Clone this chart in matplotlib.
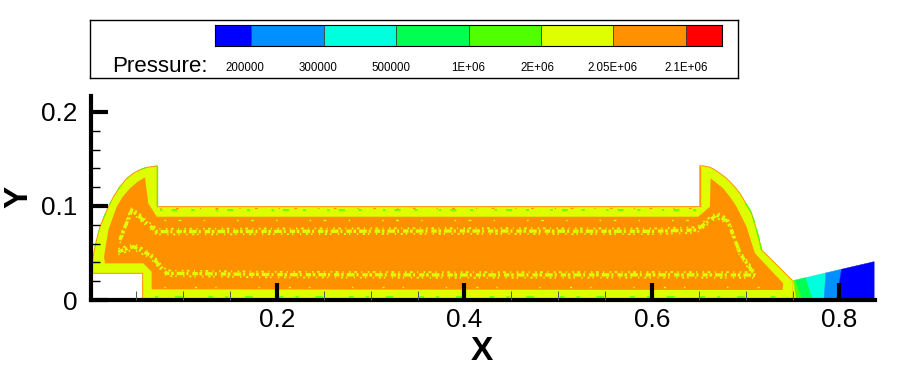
import matplotlib
matplotlib.use("Agg")
import matplotlib.pyplot as plt
from matplotlib.patches import Polygon

# --- values ---
level_labels = ["200000", "300000", "500000", "1E+06", "2E+06", "2.05E+06", "2.1E+06"]
level_colors = ["#0000ff", "#0090ff", "#00ffdd", "#00ff50", "#50ff00", "#ddff00", "#ff9000", "#ff0000"]
level_widths = [0.5, 1, 1, 1, 1, 1, 1, 0.5]
label_px = [245, 318, 391, 468, 537, 613, 686]

arc_left_x = [0.0723, 0.0610, 0.0538, 0.0467, 0.0390, 0.0325, 0.0260, 0.0201, 0.0155, 0.0112, 0.0083, 0.0059, 0.0042, 0.0027]
arc_left_y = [0.1426, 0.1411, 0.1385, 0.1348, 0.1285, 0.1206, 0.1105, 0.0993, 0.0885, 0.0780, 0.0670, 0.0567, 0.0480, 0.0390]
arc_right_x = [0.7170, 0.7145, 0.7117, 0.7090, 0.7063, 0.7037, 0.7010, 0.6975, 0.6939, 0.6887, 0.6832, 0.6780, 0.6725, 0.6672, 0.6619, 0.6565, 0.6512]
arc_right_y = [0.0532, 0.0640, 0.0745, 0.0838, 0.0922, 0.0970, 0.1011, 0.1075, 0.1135, 0.1200, 0.1259, 0.1308, 0.1348, 0.1385, 0.1412, 0.1424, 0.1429]
outline_x = arc_left_x + [0.0027, 0.0567, 0.0567, 0.7501, 0.7501] + arc_right_x + [0.6512, 0.0723]
outline_y = arc_left_y + [0.0284, 0.0284, 0.0, 0.0, 0.0206] + arc_right_y + [0.0993, 0.0993]

core_x = [0.0663, 0.0663, 0.0574, 0.0165, 0.0155, 0.0201, 0.0290, 0.0355, 0.0432, 0.0510, 0.0592, 0.0627, 0.0717,
          0.6494, 0.6619, 0.6626, 0.6760, 0.6835, 0.6903, 0.7010, 0.7099, 0.7401, 0.7394]
core_y = [0.0113, 0.0301, 0.0390, 0.0390, 0.0461, 0.0745, 0.0993, 0.1100, 0.1188, 0.1255, 0.1305, 0.1029, 0.0886,
          0.0886, 0.0993, 0.1295, 0.1188, 0.1095, 0.0993, 0.0780, 0.0497, 0.0178, 0.0106]

upper_x = [0.0325, 0.0450, 0.0717, 0.20, 0.40, 0.60, 0.6477, 0.669, 0.6814, 0.6939, 0.7099]
upper_y = [0.0638, 0.0957, 0.0727, 0.0730, 0.0734, 0.0730, 0.0745, 0.0904, 0.0833, 0.0497, 0.0266]
lower_x = [0.0307, 0.0467, 0.0645, 0.0823, 0.20, 0.40, 0.60, 0.7099]
lower_y = [0.0514, 0.0567, 0.0479, 0.0284, 0.0270, 0.0266, 0.0268, 0.0266]

# wedge contour edges: x at the bottom, x at the top of the outlet region
wedge_x = [0.7501, 0.8371]
wedge_y = [0.0206, 0.0408]
wedge_bottom = [0.7501, 0.7543, 0.7608, 0.7720, 0.7835, 0.7970, 0.8371]
wedge_top = [0.7501, 0.7510, 0.7526, 0.7643, 0.7856, 0.8023, 0.8371]
wedge_colors = ["#ddff00", "#50ff00", "#00ff50", "#00ffdd", "#0090ff", "#0000ff"]

x_major = [0.2, 0.4, 0.6, 0.8]
x_minor = [0.05, 0.1, 0.15, 0.25, 0.3, 0.35, 0.45, 0.5, 0.55, 0.65, 0.7, 0.75]
y_major = [0, 0.1, 0.2]
y_minor = [0.02, 0.04, 0.06, 0.08, 0.12, 0.14, 0.16, 0.18]

W, H = 922, 368
plt.rcParams["font.family"] = ["Liberation Sans", "DejaVu Sans"]
fig = plt.figure(figsize=(W / 100, H / 100), dpi=100)


def px_axes(x0, y0, x1, y1):
    return fig.add_axes([x0 / W, 1 - y1 / H, (x1 - x0) / W, (y1 - y0) / H])


# legend box
box = px_axes(90, 20, 738, 78)
box.set_xticks([])
box.set_yticks([])
for s in box.spines.values():
    s.set_linewidth(1)

bar = px_axes(215, 25, 722, 46)
left = 0
for w, c in zip(level_widths, level_colors):
    bar.barh(0, w, left=left, height=1, color=c, edgecolor="#333333", linewidth=0.5)
    left += w
bar.set_xlim(0, sum(level_widths))
bar.set_ylim(-0.5, 0.5)
bar.set_xticks([])
bar.set_yticks([])
for s in bar.spines.values():
    s.set_linewidth(0.8)

fig.text(112 / W, 1 - 66 / H, "Pressure:", fontsize=16.1, ha="left", va="center")
for lab, px in zip(level_labels, label_px):
    fig.text(px / W, 1 - 68 / H, lab, fontsize=8.3, ha="center", va="center")

# main plot
ax = px_axes(91, 96, 875, 300)
ax.set_xlim(0.0016, 0.838)
ax.set_ylim(0, 0.217)
ax.patch.set_alpha(0)

ax.add_patch(Polygon(list(zip(outline_x, outline_y)), closed=True, facecolor="#ddff00",
                     edgecolor="#ff9000", linewidth=0.7, zorder=2))
ax.add_patch(Polygon(list(zip(core_x, core_y)), closed=True, facecolor="#ff9000", edgecolor="none", zorder=3))

# outlet wedge, one strip per pressure level
slope = (wedge_y[1] - wedge_y[0]) / (wedge_x[1] - wedge_x[0])
for i, c in enumerate(wedge_colors):
    xb0, xb1 = wedge_bottom[i], wedge_bottom[i + 1]
    xt0, xt1 = wedge_top[i], wedge_top[i + 1]
    yt0 = wedge_y[0] + slope * (xt0 - wedge_x[0])
    yt1 = wedge_y[0] + slope * (xt1 - wedge_x[0])
    ax.add_patch(Polygon([(xb0, 0), (xb1, 0), (xt1, yt1), (xt0, yt0)], closed=True,
                         facecolor=c, edgecolor=c, linewidth=0.3, zorder=2))

# speckled yellow bands inside the core
for xs, ys in [(upper_x, upper_y), (lower_x, lower_y)]:
    ax.plot(xs, ys, color="#ddff00", lw=2.4, dashes=(1.6, 0.5, 0.8, 0.9, 2.3, 0.6, 0.6, 1.2), zorder=4)
    ax.plot(xs, [v + 0.003 for v in ys], color="#ddff00", lw=1.3, dashes=(0.9, 1.9, 1.5, 2.4, 0.6, 3.0), zorder=4)
    ax.plot(xs, [v - 0.003 for v in ys], color="#ddff00", lw=1.3, dashes=(0.7, 2.6, 1.2, 1.6, 0.8, 3.6), zorder=4)

# stray flecks next to the wall layers
ax.plot([0.08, 0.64], [0.0848, 0.0848], color="#ddff00", lw=1.0, dashes=(1.2, 9, 2, 16, 1, 23), zorder=4)
ax.plot([0.08, 0.73], [0.0135, 0.0135], color="#ddff00", lw=1.0, dashes=(1, 21, 1.5, 13, 1, 30), zorder=4)
ax.plot([0.075, 0.65], [0.0962, 0.0962], color="#50ff00", lw=1.1, dashes=(1.5, 6, 4, 9, 2, 14), zorder=4)
ax.plot([0.075, 0.65], [0.0978, 0.0978], color="#ff9000", lw=0.8, dashes=(1, 13, 2.5, 19), zorder=4)
ax.plot([0.07, 0.745], [0.0028, 0.0028], color="#50ff00", lw=1.1, dashes=(2, 11, 5, 17, 3, 8), zorder=4)
ax.plot([0.0723, 0.0723], [0.1, 0.142], color="#50ff00", lw=1.0, zorder=4)
ax.plot([0.6512, 0.6512], [0.1, 0.142], color="#ff9000", lw=0.9, zorder=4)
ax.plot(arc_right_x[:8], arc_right_y[:8], color="#50ff00", lw=1.0, dashes=(5, 2, 9, 4), zorder=4)
ax.plot(arc_left_x, arc_left_y, color="#50ff00", lw=0.8, dashes=(2, 9, 4, 13), zorder=4)

for s in ["top", "right"]:
    ax.spines[s].set_visible(False)
for s in ["left", "bottom"]:
    ax.spines[s].set_linewidth(3)
    ax.spines[s].set_zorder(6)
ax.xaxis.set_zorder(6)
ax.yaxis.set_zorder(6)

ax.set_xticks(x_major)
ax.set_xticklabels(["0.2", "0.4", "0.6", "0.8"])
ax.set_xticks(x_minor, minor=True)
ax.set_yticks(y_major)
ax.set_yticklabels(["0", "0.1", "0.2"])
ax.set_yticks(y_minor, minor=True)
ax.tick_params(axis="both", which="major", direction="in", length=12.5, width=3, labelsize=18.8)
ax.tick_params(axis="x", which="major", pad=5.5)
ax.tick_params(axis="y", which="major", pad=10)
ax.tick_params(axis="x", which="minor", direction="in", length=6.5, width=0.7, color="#555555")
ax.tick_params(axis="y", which="minor", direction="in", length=6.5, width=1)

fig.text(482 / W, 1 - 351 / H, "X", fontsize=24, fontweight="bold", ha="center", va="center")
fig.text(19 / W, 1 - 197 / H, "Y", fontsize=24, fontweight="bold", rotation=90, ha="center", va="center")

plt.savefig("out.png", dpi=100)
plt.close()
